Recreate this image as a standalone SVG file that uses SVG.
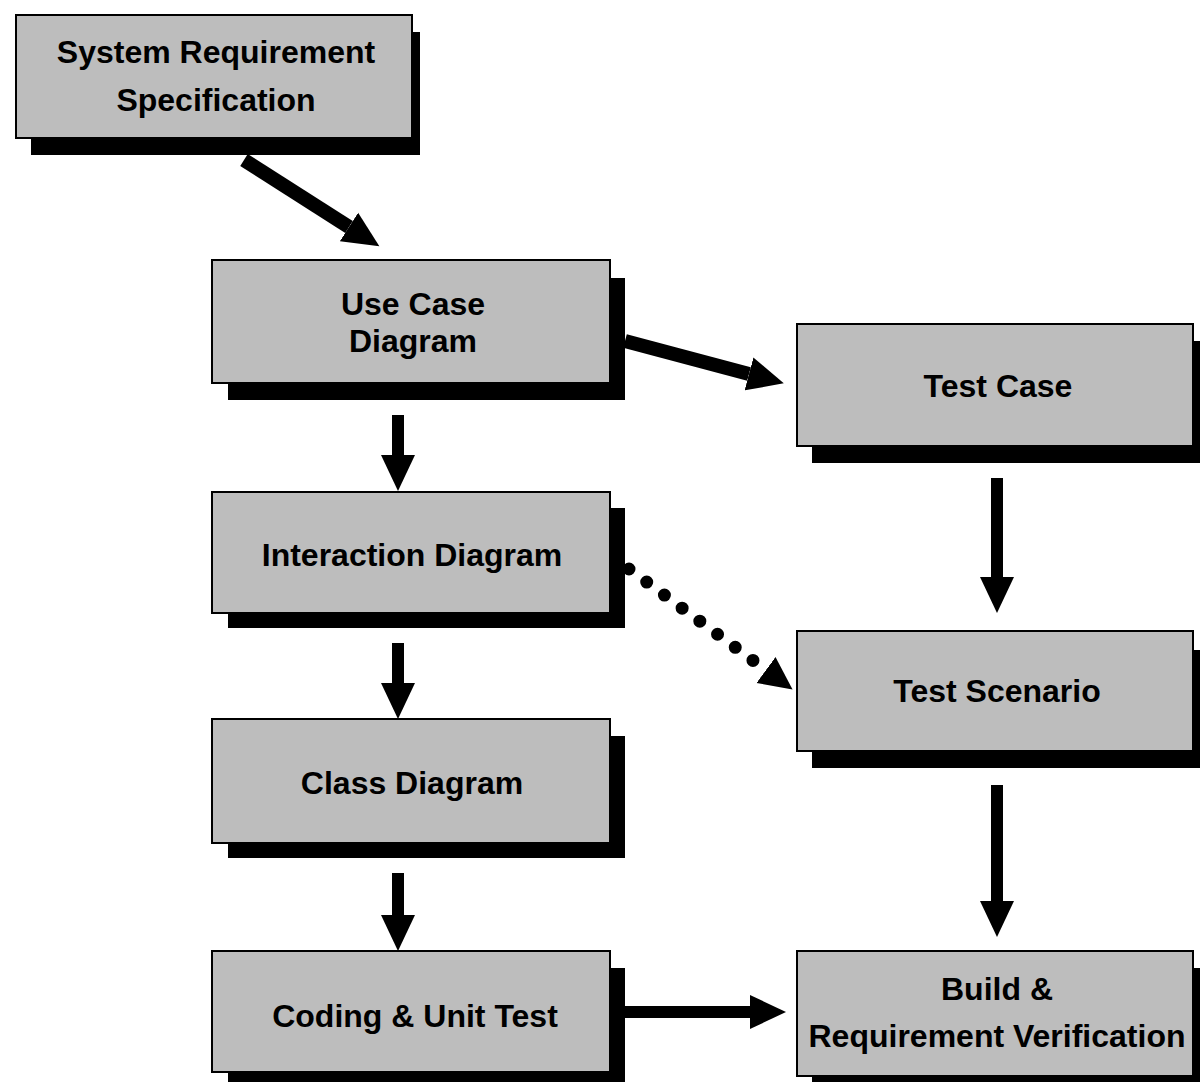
<svg xmlns="http://www.w3.org/2000/svg" width="1200" height="1082" viewBox="0 0 1200 1082">
  <style>
    .shadow { fill: #000000; }
    .box { fill: #bdbdbd; stroke: #000000; stroke-width: 2; }
    .label { font-family: "Liberation Sans", Arial, sans-serif; font-weight: bold; font-size: 32px; fill: #000000; text-anchor: middle; }
    .conn { stroke: #000000; stroke-width: 12; fill: none; }
    .diag { stroke: #000000; stroke-width: 14; fill: none; }
    .dots { stroke: #000000; stroke-width: 13; stroke-linecap: round; stroke-dasharray: 0 22; fill: none; }
  </style>
  <defs>
    <marker id="head" markerUnits="userSpaceOnUse" markerWidth="37" markerHeight="36" refX="0" refY="18" orient="auto">
      <path d="M0,1 L36,18 L0,35 Z" fill="#000000"/>
    </marker>
    <marker id="headDot" markerUnits="userSpaceOnUse" markerWidth="34" markerHeight="34" refX="0" refY="17" orient="auto">
      <path d="M0,1 L33,17 L0,33 Z" fill="#000000"/>
    </marker>
  </defs>
  <rect width="1200" height="1082" fill="#ffffff"/>

  <g id="node-srs">
    <rect class="shadow" x="31" y="32" width="389" height="123"/>
    <rect class="box" x="16" y="15" width="396" height="123"/>
    <text class="label" x="216" y="63">System Requirement</text>
    <text class="label" x="216" y="111">Specification</text>
  </g>

  <g id="node-usecase">
    <rect class="shadow" x="228" y="278" width="397" height="122"/>
    <rect class="box" x="212" y="260" width="398" height="123"/>
    <text class="label" x="413" y="315">Use Case</text>
    <text class="label" x="413" y="352">Diagram</text>
  </g>

  <g id="node-testcase">
    <rect class="shadow" x="812" y="341" width="396" height="122"/>
    <rect class="box" x="797" y="324" width="396" height="122"/>
    <text class="label" x="998" y="397">Test Case</text>
  </g>

  <g id="node-interaction">
    <rect class="shadow" x="228" y="508" width="397" height="120"/>
    <rect class="box" x="212" y="492" width="398" height="121"/>
    <text class="label" x="412" y="566">Interaction Diagram</text>
  </g>

  <g id="node-testscenario">
    <rect class="shadow" x="812" y="650" width="396" height="118"/>
    <rect class="box" x="797" y="631" width="396" height="120"/>
    <text class="label" x="997" y="702">Test Scenario</text>
  </g>

  <g id="node-class">
    <rect class="shadow" x="228" y="736" width="397" height="122"/>
    <rect class="box" x="212" y="719" width="398" height="124"/>
    <text class="label" x="412" y="794">Class Diagram</text>
  </g>

  <g id="node-coding">
    <rect class="shadow" x="228" y="968" width="397" height="122"/>
    <rect class="box" x="212" y="951" width="398" height="121"/>
    <text class="label" x="415" y="1027">Coding &amp; Unit Test</text>
  </g>

  <g id="node-build">
    <rect class="shadow" x="812" y="968" width="396" height="122"/>
    <rect class="box" x="797" y="951" width="396" height="125"/>
    <text class="label" x="997" y="1000">Build &amp;</text>
    <text class="label" x="997" y="1047">Requirement Verification</text>
  </g>

  <g id="connectors">
    <line class="diag" x1="244" y1="160" x2="349" y2="227" marker-end="url(#head)"/>
    <line class="diag" x1="625" y1="341" x2="749" y2="374" marker-end="url(#head)"/>
    <line class="conn" x1="398" y1="415" x2="398" y2="455" marker-end="url(#head)"/>
    <line class="conn" x1="398" y1="643" x2="398" y2="683" marker-end="url(#head)"/>
    <line class="conn" x1="398" y1="873" x2="398" y2="915" marker-end="url(#head)"/>
    <line class="conn" x1="997" y1="478" x2="997" y2="577" marker-end="url(#head)"/>
    <line class="conn" x1="997" y1="785" x2="997" y2="901" marker-end="url(#head)"/>
    <line class="conn" x1="623" y1="1012" x2="750" y2="1012" marker-end="url(#head)"/>
    <line class="dots" x1="629" y1="569" x2="766" y2="670" marker-end="url(#headDot)"/>
  </g>
</svg>
